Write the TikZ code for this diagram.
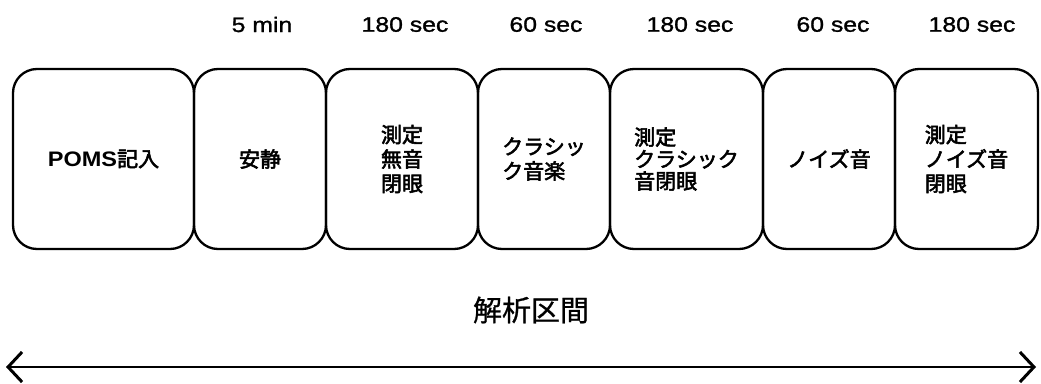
\documentclass[tikz,border=0pt]{standalone}
\usepackage{fontspec}
\setmainfont{Liberation Sans}
\newfontfamily\lat[FakeStretch=1.18,FakeBold=1.2]{Liberation Sans}
\newfontfamily\latb[FakeStretch=1.12]{Liberation Sans Bold}
\newfontfamily\cjk[FakeBold=2.6]{Noto Sans CJK JP}
\newfontfamily\cjkreg[FakeBold=0.8]{Noto Sans CJK JP}
\usetikzlibrary{arrows.meta}
\begin{document}
\begin{tikzpicture}[x=1pt,y=-1pt,
  stage/.style={draw, line width=2.3pt, rounded corners=24pt, minimum height=180pt,
    inner sep=0pt, align=left, font=\cjk\fontsize{21}{24.5}\selectfont},
  dur/.style={font=\lat\fontsize{21}{24}\selectfont, inner sep=0pt},
  span/.style={font=\cjkreg\fontsize{29}{32}\selectfont, inner sep=0pt},
  barb/.style={line width=2pt, {Straight Barb[length=14pt,width=30pt,line width=3pt]}-{Straight Barb[length=14pt,width=30pt,line width=3pt]}}]
\useasboundingbox (0,0) rectangle (1041,383);

\node[stage, minimum width=181pt] (b1) at (103.5,159) {{\latb POMS}記入};
\node[stage, minimum width=132pt] (b2) at (260,159) {安静};
\node[stage, minimum width=152pt] (b3) at (402,159) {測定\\無音\\閉眼};
\node[stage, minimum width=132pt] (b4) at (544,159) {クラシッ\\ク音楽};
\node[stage, minimum width=153pt, font=\cjk\fontsize{21}{22}\selectfont] (b5) at (686.5,159) {測定\\クラシック\\音閉眼};
\node[stage, minimum width=132pt] (b6) at (829,159) {ノイズ音};
\node[stage, minimum width=143pt] (b7) at (966.5,159) {測定\\ノイズ音\\閉眼};

\node[dur] (d2) at (262,24.5) {5 min};
\node[dur] (d3) at (405,24.5) {180 sec};
\node[dur] (d4) at (546,24.5) {60 sec};
\node[dur] (d5) at (690,24.5) {180 sec};
\node[dur] (d6) at (833,24.5) {60 sec};
\node[dur] (d7) at (972,24.5) {180 sec};

\node[span] (lab) at (531,310) {解析区間};
\coordinate (aL) at (6,367);
\coordinate (aR) at (1036,367);
\draw[barb] (aL) -- (aR);
\end{tikzpicture}
\end{document}
